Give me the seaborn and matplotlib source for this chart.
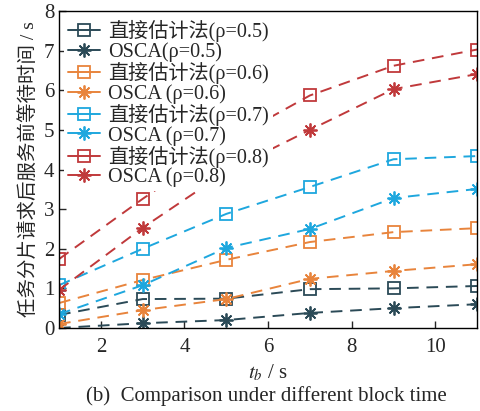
import numpy as np
import pandas as pd
import matplotlib
matplotlib.use("Agg")
import matplotlib.pyplot as plt
import seaborn as sns
from matplotlib.lines import Line2D

sns.set_theme(style="ticks")
plt.rcParams['font.family'] = ['Liberation Serif', 'Noto Sans CJK SC', 'DejaVu Serif', 'DejaVu Sans']
plt.rcParams['mathtext.fontset'] = 'stix'
plt.rcParams['axes.unicode_minus'] = False

tb = [1, 3, 5, 7, 9, 11]
direct_05 = [0.33, 0.73, 0.74, 0.98, 1.00, 1.06]
osca_05 = [0.00, 0.12, 0.20, 0.38, 0.50, 0.60]
direct_06 = [0.63, 1.21, 1.72, 2.17, 2.42, 2.52]
osca_06 = [0.10, 0.45, 0.73, 1.24, 1.44, 1.61]
direct_07 = [1.08, 2.00, 2.88, 3.56, 4.26, 4.34]
osca_07 = [0.35, 1.08, 2.02, 2.50, 3.28, 3.51]
direct_08 = [1.74, 3.26, 4.70, 5.87, 6.62, 7.03]
osca_08 = [0.96, 2.53, 3.95, 5.00, 6.03, 6.41]

labels = [
    '直接估计法(ρ=0.5)', 'OSCA(ρ=0.5)',
    '直接估计法(ρ=0.6)', 'OSCA (ρ=0.6)',
    '直接估计法(ρ=0.7)', 'OSCA (ρ=0.7)',
    '直接估计法(ρ=0.8)', 'OSCA (ρ=0.8)',
]
series = [direct_05, osca_05, direct_06, osca_06, direct_07, osca_07, direct_08, osca_08]
colors = ['#2b4a57', '#2b4a57', '#e8843c', '#e8843c', '#1ea7de', '#1ea7de', '#c0393b', '#c0393b']
markers = ['s', (8, 2, 0)] * 4

fig = plt.figure(figsize=(4.8, 4.11), dpi=100)
ax = fig.add_axes([0.123, 0.202, 0.871, 0.771])

handles = []
for lab, vals, c, m in zip(labels, series, colors, markers):
    df = pd.DataFrame({'tb': tb, 'val': vals})
    is_sq = (m == 's')
    kw = dict(marker=m, markersize=8 if is_sq else 10,
              markerfacecolor='none' if is_sq else c,
              markeredgecolor=c, markeredgewidth=1.3)
    sns.lineplot(data=df, x='tb', y='val', ax=ax, color=c, linewidth=1.4,
                 linestyle=(0, (6, 4)), **kw)
    handles.append(Line2D([0], [0], color=c, linewidth=1.4, linestyle='-', **kw))

ax.set_xlim(1, 11)
ax.set_ylim(0, 8)
ax.set_xticks([2, 4, 6, 8, 10])
ax.set_yticks(range(0, 9))
ax.tick_params(direction='in', labelsize=15, length=5, width=1)
ax.tick_params(axis='x', pad=7)
for s in ax.spines.values():
    s.set_linewidth(1.0)
    s.set_color('black')

ax.set_xlabel(r'$t_b$ / s', fontsize=15, labelpad=4)
ax.set_ylabel('任务分片请求后服务前等待时间 / s', fontsize=14, labelpad=4)

leg = ax.legend(handles=handles, labels=labels, loc='upper left',
                bbox_to_anchor=(0.0, 1.0), frameon=True, fontsize=14.5,
                handlelength=1.6, handletextpad=0.4, labelspacing=0.0,
                borderaxespad=0.25, borderpad=0.2)
leg.get_frame().set_edgecolor('none')
leg.get_frame().set_facecolor('white')
leg.get_frame().set_alpha(1.0)
leg.set_zorder(10)

fig.text(0.555, 0.012, '(b)  Comparison under different block time',
         ha='center', va='bottom', fontsize=15)

fig.savefig('out.png', dpi=100)
